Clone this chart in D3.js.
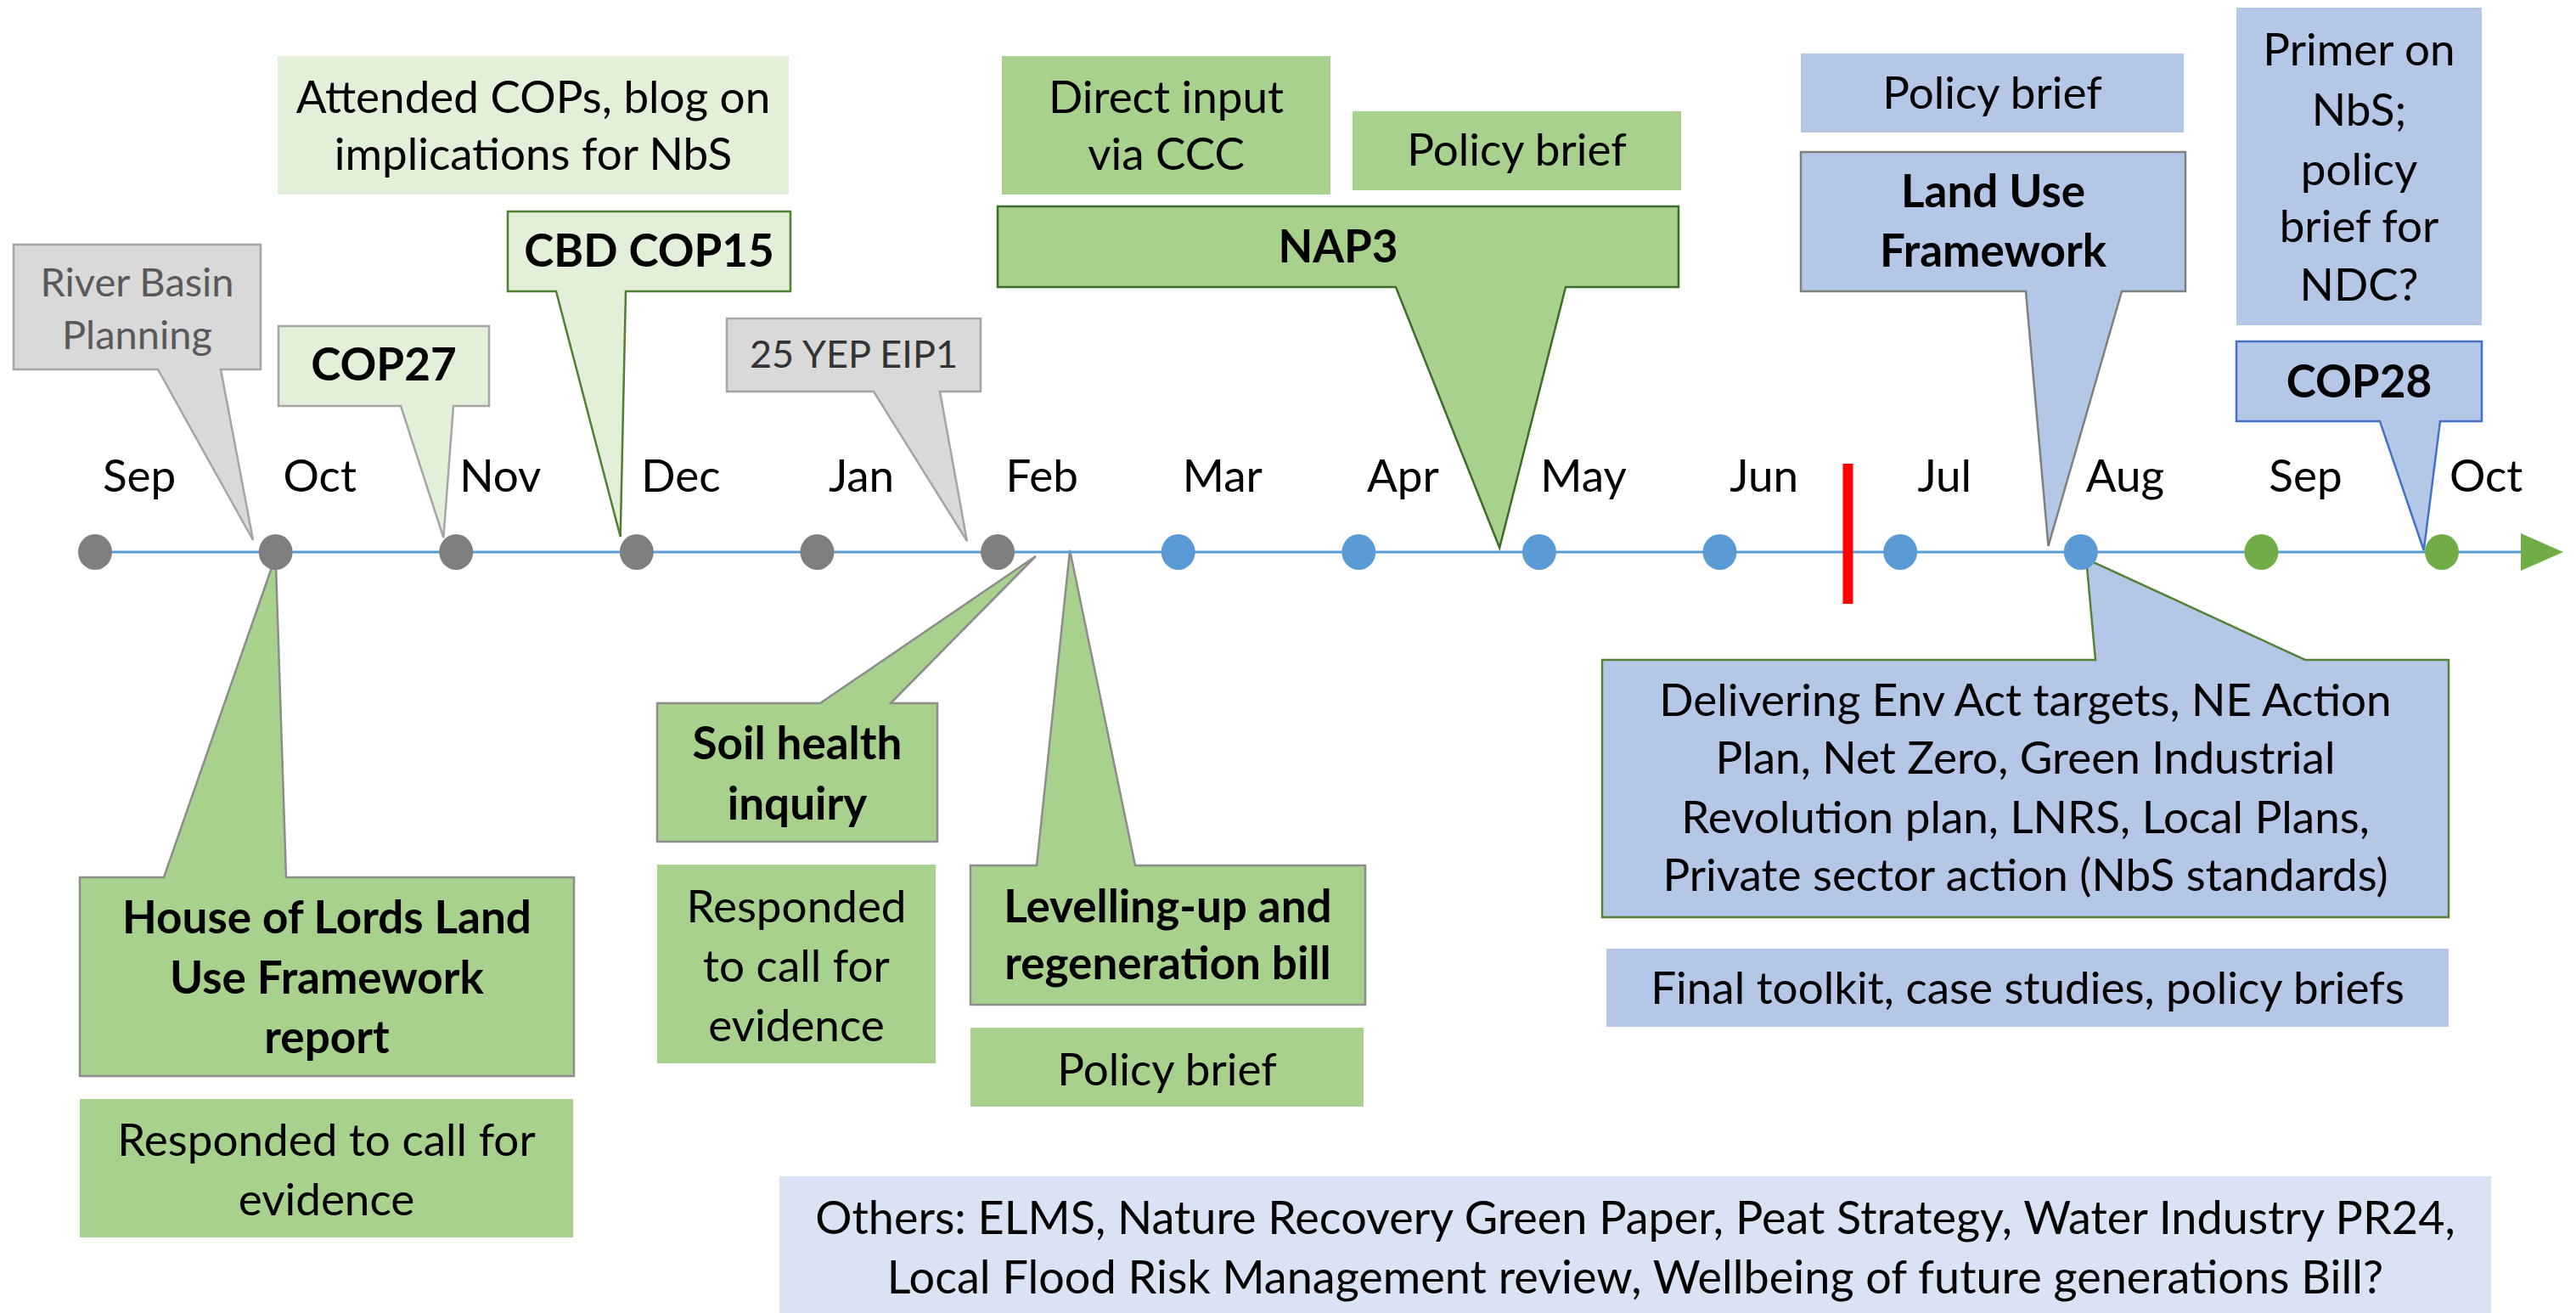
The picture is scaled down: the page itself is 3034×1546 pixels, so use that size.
<!DOCTYPE html>
<html>
<head>
<meta charset="utf-8">
<script src="https://cdn.jsdelivr.net/npm/d3@7"></script>
<style>
  html, body { margin: 0; padding: 0; background: #fff; }
  svg text { font-family: Lato, "Open Sans", sans-serif; }
</style>
</head>
<body>
<svg id="chart" width="3034" height="1546"></svg>
<script>
// months along the timeline (Sep 2022 -> Oct 2023)
const months = ["Sep", "Oct", "Nov", "Dec", "Jan", "Feb", "Mar", "Apr", "May", "Jun", "Jul", "Aug", "Sep", "Oct"];
// phase of each month: done / current / next
const phases = ["past", "past", "past", "past", "past", "past",
  "now", "now", "now", "now", "now", "now", "next", "next"];
// "today" marker, in months from the first Sep
const todayAt = 9.71;

// events, with the month position their pointer lands on (null = plain note)
const eventLabels = [
  ["River Basin", "Planning"],
  ["COP27"],
  ["Attended COPs, blog on", "implications for NbS"],
  ["CBD COP15"],
  ["25 YEP EIP1"],
  ["Direct input", "via CCC"],
  ["Policy brief"],
  ["NAP3"],
  ["Policy brief"],
  ["Land Use", "Framework"],
  ["Primer on", "NbS;", "policy", "brief for", "NDC?"],
  ["COP28"],
  ["House of Lords Land", "Use Framework", "report"],
  ["Responded to call for", "evidence"],
  ["Soil health", "inquiry"],
  ["Responded", "to call for", "evidence"],
  ["Levelling-up and", "regeneration bill"],
  ["Policy brief"],
  ["Delivering Env Act targets, NE Action", "Plan, Net Zero, Green Industrial", "Revolution plan, LNRS, Local Plans,", "Private sector action (NbS standards)"],
  ["Final toolkit, case studies, policy briefs"],
  ["Others: ELMS, Nature Recovery Green Paper, Peat Strategy, Water Industry PR24,", "Local Flood Risk Management review, Wellbeing of future generations Bill?"]
];
const eventAt = [0.875, 1.93, null, 2.91, 4.83, null, null, 7.78, null, 10.82, null, 12.9,
  1.0, null, 5.21, null, 5.40, null, 11.03, null, null];

// ---- layout (box geometry, styles) ----
const styles = {
  grey:   { fill: "#d9d9d9", stroke: "#a5a5a5", color: "#595959", size: 47, weight: 400 },
  grey2:  { fill: "#d9d9d9", stroke: "#a5a5a5", color: "#333333", size: 45, weight: 400 },
  pale:   { fill: "#e2f0d9", stroke: null, color: "#000", size: 53, weight: 400 },
  paleT:  { fill: "#e2f0d9", stroke: "#a5a5a5", color: "#000", size: 53, weight: 700 },
  paleD:  { fill: "#e2f0d9", stroke: "#507e32", color: "#000", size: 53, weight: 700 },
  green:  { fill: "#a9d18e", stroke: null, color: "#000", size: 53, weight: 400 },
  greenT: { fill: "#a9d18e", stroke: "#8c8c8c", color: "#000", size: 53, weight: 700 },
  greenD: { fill: "#a9d18e", stroke: "#3d6b2a", color: "#000", size: 53, weight: 700 },
  blue:   { fill: "#b4c7e7", stroke: null, color: "#000", size: 53, weight: 400 },
  blueT:  { fill: "#b4c7e7", stroke: "#7f7f7f", color: "#000", size: 53, weight: 700 },
  blueB:  { fill: "#b4c7e7", stroke: "#4472c4", color: "#000", size: 53, weight: 700 },
  blueG:  { fill: "#b4c7e7", stroke: "#548235", color: "#000", size: 53, weight: 400 },
  pale2:  { fill: "#dae3f3", stroke: null, color: "#000", size: 54, weight: 400 }
};

// [x, y, w, h, style, line centres, tail base left, tail base right, tail tip y]
const boxes = [
  [16, 288, 291, 147, "grey", [333, 395], 186, 260, 636],
  [328, 384, 248, 94, "paleT", [429], 472, 534, 633],
  [327, 66, 602, 163, "pale", [114, 181]],
  [598, 249, 333, 94, "paleD", [295], 655, 737, 632],
  [856, 375, 299, 86, "grey2", [417], 1029, 1107, 637],
  [1180, 66, 387, 163, "green", [114, 181]],
  [1593, 131, 387, 93, "green", [176]],
  [1175, 243, 802, 95, "greenD", [290], 1644, 1844, 645],
  [2121, 63, 451, 93, "blue", [109]],
  [2121, 179, 453, 164, "blueT", [225, 295], 2386, 2499, 643],
  [2634, 9, 289, 374, "blue", [58, 129, 199, 266, 335]],
  [2634, 402, 289, 94, "blueB", [449], 2803, 2874, 648],
  [94, 1033, 582, 234, "greenT", [1080, 1151, 1221], 193, 337, 655],
  [94, 1294, 581, 163, "green", [1342, 1412]],
  [774, 828, 330, 163, "greenT", [875, 946], 966, 1049, 655],
  [774, 1018, 328, 234, "green", [1067, 1137, 1207]],
  [1143, 1019, 465, 164, "greenT", [1067, 1134], 1221, 1337, 648],
  [1143, 1210, 463, 93, "green", [1259]],
  [1887, 777, 997, 303, "blueG", [824, 892, 962, 1030], 2468, 2715, 658],
  [1892, 1117, 992, 92, "blue", [1163]],
  [918, 1385, 2016, 170, "pale2", [1434, 1504]]
];

const phaseColor = { past: "#7f7f7f", now: "#5b9bd5", next: "#70ad47" };
const axisY = 650;

const svg = d3.select("#chart");
svg.append("rect").attr("width", 3034).attr("height", 1546).attr("fill", "#fff");

const x = d3.scaleLinear().domain([0, months.length - 1]).range([112, 2876]);

// callout outline: rectangle with a wedge pointing at the timeline
function calloutPath(b, tipX) {
  const [bx, by, w, h, , , t0, t1, tipY] = b;
  const p = d3.path();
  if (t0 === undefined) {
    p.rect(bx, by, w, h);
    return p.toString();
  }
  if (tipY < by) { // pointer leaves the top edge
    p.moveTo(bx, by);
    p.lineTo(t0, by);
    p.lineTo(tipX, tipY);
    p.lineTo(t1, by);
    p.lineTo(bx + w, by);
    p.lineTo(bx + w, by + h);
    p.lineTo(bx, by + h);
  } else {          // pointer leaves the bottom edge
    p.moveTo(bx, by);
    p.lineTo(bx + w, by);
    p.lineTo(bx + w, by + h);
    p.lineTo(t1, by + h);
    p.lineTo(tipX, tipY);
    p.lineTo(t0, by + h);
    p.lineTo(bx, by + h);
  }
  p.closePath();
  return p.toString();
}

const callouts = svg.append("g").attr("class", "callouts")
  .selectAll("g")
  .data(boxes.map((b, i) => ({ b, lines: eventLabels[i], at: eventAt[i], st: styles[b[4]] })))
  .join("g");

callouts.append("path")
  .attr("d", d => calloutPath(d.b, d.at === null ? 0 : x(d.at)))
  .attr("fill", d => d.st.fill)
  .attr("stroke", d => d.st.stroke || "none")
  .attr("stroke-width", 2.5)
  .attr("stroke-linejoin", "miter");

callouts.each(function(d) {
  const g = d3.select(this);
  const cx = d.b[0] + d.b[2] / 2;
  d.lines.forEach((line, j) => {
    g.append("text")
      .attr("x", cx)
      .attr("y", d.b[5][j] + d.st.size * 0.35)
      .attr("text-anchor", "middle")
      .attr("font-size", d.st.size)
      .attr("font-weight", d.st.weight)
      .attr("fill", d.st.color)
      .text(line);
  });
});

// timeline
svg.append("line")
  .attr("x1", x(0)).attr("x2", x(months.length - 1) + 93)
  .attr("y1", axisY).attr("y2", axisY)
  .attr("stroke", "#5b9bd5").attr("stroke-width", 3);

svg.append("path")
  .attr("d", d3.line()([[x(months.length - 1) + 93, axisY - 22], [x(months.length - 1) + 143, axisY], [x(months.length - 1) + 93, axisY + 22]]) + "Z")
  .attr("fill", "#70ad47");

svg.append("g").selectAll("ellipse")
  .data(months)
  .join("ellipse")
  .attr("cx", (d, i) => x(i))
  .attr("cy", axisY)
  .attr("rx", 20).attr("ry", 21)
  .attr("fill", (d, i) => phaseColor[phases[i]]);

svg.append("g").selectAll("text")
  .data(months)
  .join("text")
  .attr("x", (d, i) => x(i + 0.245))
  .attr("y", 560 + 53 * 0.35)
  .attr("text-anchor", "middle")
  .attr("font-size", 53)
  .attr("fill", "#000")
  .text(d => d);

svg.append("line")
  .attr("x1", x(todayAt)).attr("x2", x(todayAt))
  .attr("y1", 546).attr("y2", 711)
  .attr("stroke", "#ff0000").attr("stroke-width", 12);
</script>
</body>
</html>
